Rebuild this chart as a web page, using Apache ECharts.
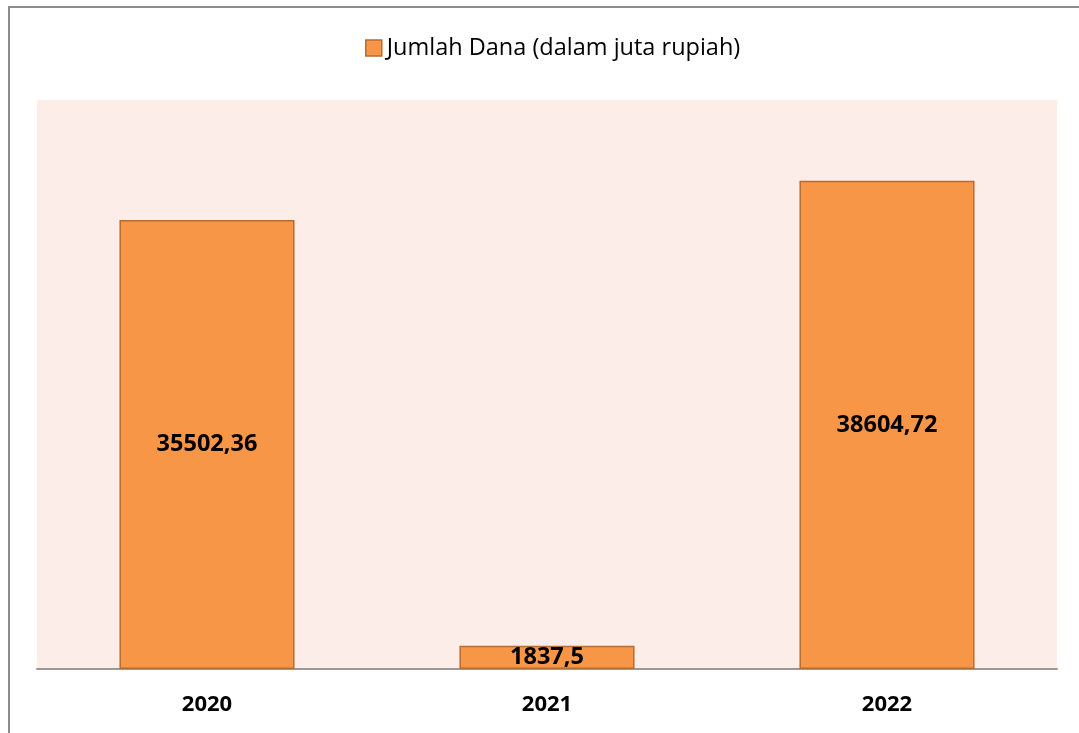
<!DOCTYPE html>
<html>
<head>
<meta charset="utf-8">
<script src="https://cdn.jsdelivr.net/npm/echarts@6/dist/echarts.min.js"></script>
<style>
  html, body { margin: 0; padding: 0; background: #fff; }
  #frame {
    position: absolute; left: 8px; top: 6px; right: 0; bottom: 0;
    border-left: 2px solid #8c8c8c; border-top: 2px solid #8c8c8c;
  }
  #chart { position: absolute; left: 0; top: 0; width: 1079px; height: 733px; }
</style>
</head>
<body>
<div id="frame"></div>
<div id="chart"></div>
<script>
// kategori tahun
const years = ['2020', '2021', '2022'];
// jumlah dana (juta rupiah)
const dana = [35502.36, 1837.5, 38604.72];
const seriesName = 'Jumlah Dana (dalam juta rupiah)';

const chart = echarts.init(document.getElementById('chart'));
const option = {
  animation: false,
  legend: {
    data: [{ name: seriesName, icon: 'rect' }],
    top: 31,
    left: 360,
    itemWidth: 16,
    itemHeight: 16,
    itemGap: 6,
    itemStyle: { borderColor: '#b66d31', borderWidth: 1.5 },
    textStyle: { fontFamily: 'Open Sans', fontSize: 23.5, color: '#000' }
  },
  grid: {
    left: 37, right: 22, top: 100, bottom: 64,
    show: true, backgroundColor: '#fcede9', borderWidth: 0
  },
  xAxis: {
    type: 'category',
    data: years,
    axisTick: { show: false },
    axisLine: { lineStyle: { color: '#999', width: 2 } },
    axisLabel: {
      margin: 25, color: '#000', fontSize: 22, fontWeight: 'bold', fontFamily: 'Open Sans'
    }
  },
  yAxis: {
    type: 'value',
    min: 0, max: 45000,
    show: false,
    splitLine: { show: false }
  },
  series: [{
    name: seriesName,
    type: 'bar',
    data: dana,
    barWidth: '51.5%',
    itemStyle: { color: '#f79646', borderColor: '#b66d31', borderWidth: 1.5 },
    label: {
      show: true, position: 'inside', color: '#000',
      fontSize: 23.5, fontWeight: 'bold', fontFamily: 'Open Sans',
      formatter: p => String(p.value).replace('.', ',')
    }
  }]
};
chart.setOption(option);
</script>
</body>
</html>
